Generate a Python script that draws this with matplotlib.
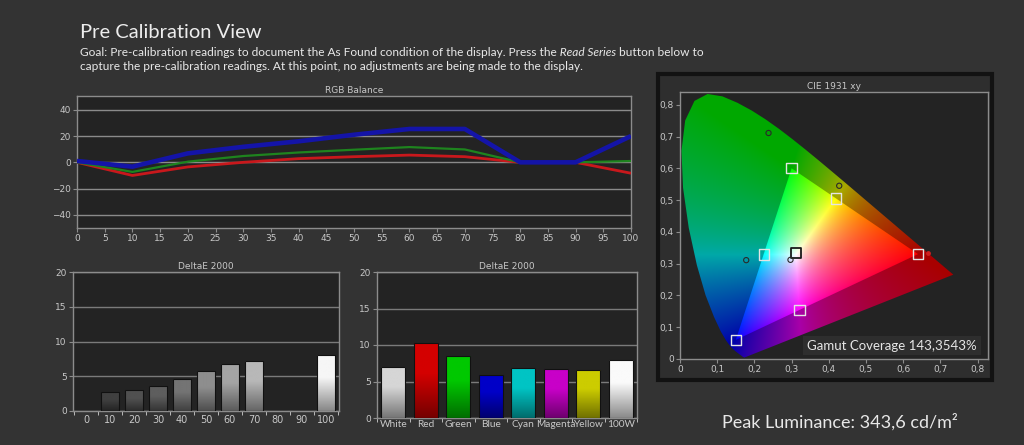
import numpy as np
import matplotlib
matplotlib.use('Agg')
import matplotlib.pyplot as plt
import matplotlib.colors as mcolors
from matplotlib.patches import Polygon, Rectangle
from matplotlib.text import Annotation

W, H = 1024, 445
BG = '#333333'
FACE = '#232323'
FRAME = '#8c8c8c'
TXT = '#c8c8c8'
UI_FONT = ['Lato', 'DejaVu Sans']

# RGB balance (greyscale level -> deviation %)
levels = [0, 10, 20, 30, 40, 50, 60, 70, 80, 90, 100]
red_bal = [0, -10, -3.5, 0, 2.8, 4.3, 5.5, 4.3, 0, 0, -8.3]
green_bal = [0, -7.3, 0.5, 4.8, 7.5, 9.6, 11.6, 9.8, 0, 0, 1]
blue_bal = [1, -3.3, 6.8, 11.8, 16, 21, 25.4, 25.4, 0, 0, 20]

# DeltaE 2000 greyscale
gray_labels = ['0', '10', '20', '30', '40', '50', '60', '70', '80', '90', '100']
gray_de = [0, 2.7, 3.0, 3.55, 4.6, 5.75, 6.7, 7.15, 0, 0, 8.0]
gray_colors = ['#303030', '#404040', '#505050', '#5e5e5e', '#747474', '#8e8e8e',
               '#a4a4a4', '#b8b8b8', '#c0c0c0', '#d0d0d0', '#f6f6f6']

# DeltaE 2000 colour points
color_labels = ['White', 'Red', 'Green', 'Blue', 'Cyan', 'Magenta', 'Yellow', '100W']
color_de = [7.0, 10.25, 8.5, 5.95, 6.8, 6.7, 6.6, 7.95]
color_colors = ['#d6d6d6', '#d40000', '#00c800', '#0000c8', '#00c4c4', '#c800c8',
                '#cccc00', '#fafafa']

# CIE 1931 spectral locus, 380-700 nm
locus_x = [0.1741, 0.1740, 0.1738, 0.1736, 0.1733, 0.1730, 0.1726, 0.1721, 0.1714,
           0.1703, 0.1689, 0.1669, 0.1644, 0.1611, 0.1566, 0.1510, 0.1440, 0.1355,
           0.1241, 0.1096, 0.0913, 0.0687, 0.0454, 0.0235, 0.0082, 0.0039, 0.0139,
           0.0389, 0.0743, 0.1142, 0.1547, 0.1929, 0.2296, 0.2658, 0.3016, 0.3373,
           0.3731, 0.4087, 0.4441, 0.4788, 0.5125, 0.5448, 0.5752, 0.6029, 0.6270,
           0.6482, 0.6658, 0.6801, 0.6915, 0.7006, 0.7079, 0.7140, 0.7190, 0.7230,
           0.7260, 0.7283, 0.7300, 0.7311, 0.7320, 0.7327, 0.7334, 0.7344, 0.7347]
locus_y = [0.0050, 0.0050, 0.0049, 0.0049, 0.0048, 0.0048, 0.0048, 0.0048, 0.0051,
           0.0058, 0.0069, 0.0086, 0.0109, 0.0138, 0.0177, 0.0227, 0.0297, 0.0399,
           0.0578, 0.0868, 0.1327, 0.2007, 0.2950, 0.4127, 0.5384, 0.6548, 0.7502,
           0.8120, 0.8338, 0.8262, 0.8059, 0.7816, 0.7543, 0.7243, 0.6923, 0.6589,
           0.6245, 0.5896, 0.5547, 0.5202, 0.4866, 0.4544, 0.4242, 0.3965, 0.3725,
           0.3514, 0.3340, 0.3197, 0.3083, 0.2993, 0.2920, 0.2859, 0.2809, 0.2770,
           0.2740, 0.2717, 0.2700, 0.2689, 0.2680, 0.2673, 0.2666, 0.2656, 0.2653]

# target gamut triangle (R, G, B)
gamut_x = [0.64, 0.30, 0.15]
gamut_y = [0.33, 0.60, 0.06]

# targets (squares): G, Y, R, C, M, B ; white target separately
target_x = [0.30, 0.419, 0.64, 0.225, 0.321, 0.15]
target_y = [0.60, 0.505, 0.33, 0.329, 0.154, 0.06]
white_target = (0.3127, 0.333)
# measured (circles): G, Y, C, W
meas_x = [0.238, 0.428, 0.178, 0.297]
meas_y = [0.711, 0.545, 0.311, 0.312]
meas_red = (0.667, 0.333)

fig = plt.figure(figsize=(W / 100, H / 100), dpi=100, facecolor=BG)


def box(l, t, r, b):
    return fig.add_axes([l / W, 1 - b / H, (r - l) / W, (b - t) / H])


def style(ax, title):
    ax.set_facecolor(FACE)
    for s in ax.spines.values():
        s.set_color(FRAME)
        s.set_linewidth(1)
    ax.tick_params(colors=FRAME, labelcolor=TXT, labelsize=6.5, length=3, width=0.8, pad=1.5)
    ax.set_title(title, fontsize=6.5, color=TXT, pad=2.5)


def shade(ax, bars, colors):
    t = np.linspace(0, 1, 80)[:, None]
    f = 0.55 + 0.45 * np.clip(t / 0.6, 0, 1)
    for b, c in zip(bars, colors):
        h = b.get_height()
        if h <= 0:
            continue
        base = np.array(mcolors.to_rgb(c))
        img = (f * base)[:, None, :]
        x0 = b.get_x()
        im = ax.imshow(img, extent=(x0, x0 + b.get_width(), 0, h), origin='lower',
                       aspect='auto', interpolation='bilinear', zorder=3)
        im.set_clip_path(b)


# ---------------- RGB balance ----------------
ax = box(77, 96, 631, 228)
style(ax, 'RGB Balance')
ax.yaxis.grid(True, color='#8a8a8a', lw=1)
ax.set_axisbelow(True)
ax.plot(levels, red_bal, color='#c8181c', lw=2.0, solid_capstyle='butt', zorder=3)
ax.plot(levels, green_bal, color='#1e841e', lw=1.6, solid_capstyle='butt', zorder=3)
ax.plot(levels, blue_bal, color='#1414a8', lw=3.3, solid_capstyle='butt', zorder=4)
ax.set_xlim(0, 100)
ax.set_ylim(-50, 50.5)
ax.set_xticks(range(0, 101, 5))
ax.set_yticks([-40, -20, 0, 20, 40])

# ---------------- DeltaE greyscale ----------------
ax = box(73, 272, 339, 411)
style(ax, 'DeltaE 2000')
ax.yaxis.grid(True, color='#7a7a7a', lw=1)
ax.set_axisbelow(True)
xs = np.arange(len(gray_de))
bars = ax.bar(xs, gray_de, width=0.73, facecolor='none', edgecolor='#111111', lw=0.8, zorder=4)
shade(ax, bars, gray_colors)
ax.set_xlim(-0.55, len(gray_de) - 0.45)
ax.set_ylim(0, 20)
ax.set_yticks([0, 5, 10, 15, 20])
ax.set_xticks(xs)
ax.set_xticklabels(gray_labels, fontsize=7)
ax.set_xticks(np.arange(len(gray_de) + 1) - 0.5, minor=True)
ax.tick_params(axis='x', which='major', length=0, pad=3)
ax.tick_params(axis='x', which='minor', length=3, color='#d0d0d0')

# ---------------- DeltaE colours ----------------
ax = box(377, 272, 637, 418)
style(ax, 'DeltaE 2000')
ax.yaxis.grid(True, color='#7a7a7a', lw=1)
ax.set_axisbelow(True)
xs = np.arange(len(color_de))
bars = ax.bar(xs, color_de, width=0.75, facecolor='none', edgecolor='#111111', lw=0.8, zorder=4)
shade(ax, bars, color_colors)
ax.set_xlim(-0.5, len(color_de) - 0.5)
ax.set_ylim(0, 20)
ax.set_yticks([0, 5, 10, 15, 20])
ax.set_xticks(xs)
ax.set_xticklabels(color_labels, fontsize=7.3, family=UI_FONT)
ax.set_xticks(np.arange(len(color_de) + 1) - 0.5, minor=True)
ax.tick_params(axis='x', which='major', length=0, pad=1.5)
ax.tick_params(axis='x', which='minor', length=3, color='#d0d0d0')

# ---------------- CIE 1931 ----------------
fig.add_artist(Rectangle((658 / W, 1 - 380 / H), (992 - 658) / W, (380 - 74) / H,
                         transform=fig.transFigure, facecolor='#2e2e2e',
                         edgecolor='#121212', lw=3, zorder=-1))
ax = box(680, 92, 988, 359)
style(ax, 'CIE 1931 xy')
xmax, ymax = 0.828, 0.84
gx = np.linspace(0.001, xmax, 500)
gy = np.linspace(0.001, ymax, 500)
X, Y = np.meshgrid(gx, gy)
xyz = np.stack([X / Y, np.ones_like(X), (1 - X - Y) / Y], -1)
M = np.array([[3.2406, -1.5372, -0.4986],
              [-0.9689, 1.8758, 0.0415],
              [0.0557, -0.2040, 1.0570]])
rgb = np.clip(xyz @ M.T, 0, None)
rgb = rgb / (rgb.max(-1, keepdims=True) + 1e-9)
rgb = rgb ** 0.8
ext = (0.001, xmax, 0.001, ymax)
locus = Polygon(np.column_stack([locus_x, locus_y]), closed=True, facecolor='none',
                edgecolor='none', transform=ax.transData)
ax.add_patch(locus)
im = ax.imshow(rgb * 0.66, extent=ext, origin='lower', aspect='auto', zorder=1)
im.set_clip_path(locus)
tri = Polygon(np.column_stack([gamut_x, gamut_y]), closed=True, facecolor='none',
              edgecolor='none', transform=ax.transData)
ax.add_patch(tri)
im2 = ax.imshow(rgb, extent=ext, origin='lower', aspect='auto', zorder=2)
im2.set_clip_path(tri)
ax.scatter(target_x, target_y, marker='s', s=55, facecolors='none',
           edgecolors='#e4e4e4', linewidths=1, zorder=5)
ax.scatter([white_target[0]], [white_target[1]], marker='s', s=55, facecolors='none',
           edgecolors='#1a1a1a', linewidths=1.3, zorder=5)
ax.scatter(meas_x, meas_y, marker='o', s=14, facecolors='none',
           edgecolors='#2a2a2a', linewidths=0.8, zorder=6)
ax.scatter([meas_red[0]], [meas_red[1]], marker='o', s=6, color='#d02020', zorder=6)
ax.set_xlim(0, xmax)
ax.set_ylim(0, ymax)
ticks = [0, 0.1, 0.2, 0.3, 0.4, 0.5, 0.6, 0.7, 0.8]
tlabels = ['0'] + [('%.1f' % v).replace('.', ',') for v in ticks[1:]]
ax.set_xticks(ticks)
ax.set_xticklabels(tlabels)
ax.set_yticks(ticks)
ax.set_yticklabels(tlabels)

fig.text(892 / W, 1 - 345.5 / H, 'Gamut Coverage 143,3543%', ha='center', va='center',
         fontsize=9.5, color='#e6e6e6', family=UI_FONT,
         bbox=dict(boxstyle='square,pad=0.3', fc='#2e2e2e', ec='none'))

# ---------------- header texts ----------------
fig.text(80 / W, 1 - 33 / H, 'Pre Calibration View', fontsize=14.5, color='#ededed',
         va='center', family=UI_FONT)
goal_kw = dict(fontsize=8.6, color='#e8e8e8', family=UI_FONT)
t1 = fig.text(80 / W, 1 - 52 / H, 'Goal: Pre-calibration readings to document the As Found '
              'condition of the display. Press the', va='center', **goal_kw)
t2 = Annotation(' Read Series', xy=(1, 0), xycoords=t1, va='bottom', ha='left',
                style='italic', **goal_kw)
fig.add_artist(t2)
t3 = Annotation(' button below to', xy=(1, 0), xycoords=t2, va='bottom', ha='left', **goal_kw)
fig.add_artist(t3)
fig.text(80 / W, 1 - 66 / H, 'capture the pre-calibration readings. At this point, no '
         'adjustments are being made to the display.', va='center', **goal_kw)

fig.text(722 / W, 1 - 422 / H, 'Peak Luminance: 343,6 cd/m²', fontsize=13,
         color='#e8e8e8', va='center', family=UI_FONT)

fig.savefig('out.png', dpi=100, facecolor=BG)
